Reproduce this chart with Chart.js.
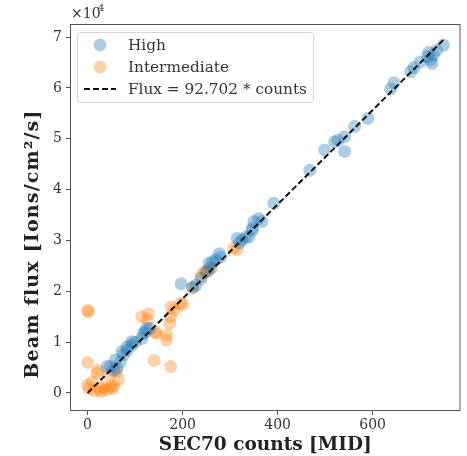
<!DOCTYPE html>
<html>
<head>
<meta charset="utf-8">
<script src="https://cdn.jsdelivr.net/npm/chart.js@4.4.0/dist/chart.umd.min.js"></script>
<style>
  html, body { margin: 0; padding: 0; background: #fff; }
  #wrap { width: 467px; height: 456px; position: relative; }
</style>
</head>
<body>
<div id="wrap"><canvas id="c"></canvas></div>
<script>
// SEC70 counts vs beam flux
var highCounts = [41, 48, 55, 62, 58, 69, 72, 76, 83, 83, 93, 93, 100, 114, 117, 122, 124, 131,
  197, 221, 228, 239, 250, 256, 260, 263, 270, 277, 280, 315, 320, 325, 333, 340, 347, 347,
  350, 360, 367, 392, 468, 499, 520, 527, 541, 541, 562, 590, 638, 645, 680, 687, 700, 715,
  718, 722, 725, 728, 735, 749];
var highFlux = [5200, 5200, 4500, 4900, 6500, 6150, 8100, 7500, 8400, 9100, 9400, 10100, 10000,
  10700, 11700, 12000, 12700, 12700, 21500, 20800, 21200, 22500, 23800, 25500, 24500, 25800,
  26200, 27400, 26700, 30400, 29500, 30100, 30700, 30700, 32000, 32400, 33700, 34300, 33700,
  37300, 43800, 47800, 49400, 49700, 50400, 47500, 52400, 54000, 59800, 61000, 63200, 64000,
  65100, 66100, 67000, 65500, 64800, 66500, 67400, 68400];

var interCounts = [0, 2, 0, 0, 3, 10, 15, 20, 22, 25, 28, 34, 40, 48, 52, 55, 62, 65, 45,
  114, 128, 126, 145, 140, 142, 166, 166, 173, 175, 175, 183, 176, 195, 201, 221, 239, 246,
  256, 308, 315, 253];
var interFlux = [16200, 16000, 6000, 1500, 800, 2200, 400, 3900, 4500, 900, 300, 1200, 600,
  1300, 900, 1400, 4200, 2600, 3500, 15000, 15600, 14400, 11700, 6400, 12000, 11400, 10400,
  13700, 15000, 5200, 16300, 16900, 17600, 17400, 20600, 23000, 23800, 24500, 28500, 28200, 24000];

var fitSlope = 92.702;
var fitRange = [0, 752];

var xTicks = [0, 200, 400, 600];
var yTicks = [0, 10000, 20000, 30000, 40000, 50000, 60000, 70000];

var yTitle = "Beam flux [Ions/cm\u00b2/s]";
var serif = "'DejaVu Serif', serif";

function toPoints(xs, ys) {
  var pts = [];
  for (var i = 0; i < xs.length; i++) pts.push({ x: xs[i], y: ys[i] });
  return pts;
}

var fitPoints = fitRange.map(function(x) { return { x: x, y: fitSlope * x }; });

// legend + frame + y title + x10^4 offset text, drawn matplotlib style
var mplExtras = {
  id: "mplExtras",
  afterDatasetsDraw: function(chart) {
    var ctx = chart.ctx, a = chart.chartArea;
    ctx.save();
    ctx.strokeStyle = "#555";
    ctx.lineWidth = 1;
    ctx.strokeRect(a.left + 0.5, a.top + 0.5, a.right - a.left - 1, a.bottom - a.top - 1);

    ctx.fillStyle = "#333";
    ctx.font = "14px " + serif;
    ctx.textBaseline = "alphabetic";
    ctx.fillText("\u00d710", a.left + 1, a.top - 6);
    ctx.font = "10px " + serif;
    ctx.fillText("4", a.left + 28, a.top - 13);

    // y axis title
    ctx.save();
    ctx.translate(38, 244);
    ctx.rotate(-Math.PI / 2);
    ctx.font = "bold 19px " + serif;
    ctx.letterSpacing = "1.2px";
    ctx.textAlign = "center";
    ctx.fillStyle = "#222";
    ctx.fillText(yTitle, 0, 0);
    ctx.restore();

    // legend box
    var bx = 77, by = 32, bw = 236, bh = 70;
    ctx.beginPath();
    ctx.roundRect(bx + 0.5, by + 0.5, bw, bh, 3);
    ctx.fillStyle = "rgba(255,255,255,0.85)";
    ctx.fill();
    ctx.strokeStyle = "#d6d6d6";
    ctx.stroke();

    var rows = [45, 67, 89];
    var ds = chart.data.datasets;
    var order = [1, 2, 0];
    ctx.font = "15.3px " + serif;
    ctx.textBaseline = "middle";
    order.forEach(function(di, r) {
      var d = ds[di], y = rows[r];
      if (d.showLine) {
        ctx.beginPath();
        ctx.setLineDash([6, 3]);
        ctx.lineWidth = 2;
        ctx.strokeStyle = "#111";
        ctx.moveTo(84, y);
        ctx.lineTo(116, y);
        ctx.stroke();
        ctx.setLineDash([]);
      } else {
        ctx.beginPath();
        ctx.arc(100, y, 6.5, 0, Math.PI * 2);
        ctx.fillStyle = d.backgroundColor;
        ctx.fill();
      }
      ctx.fillStyle = "#333";
      ctx.fillText(d.label, 128, y + 1);
    });
    ctx.restore();
  }
};

var chart = new Chart(document.getElementById("c"), {
  type: "scatter",
  data: {
    datasets: [
      {
        label: "Flux = 92.702 * counts",
        data: fitPoints,
        showLine: true,
        borderColor: "#111",
        borderWidth: 2,
        borderDash: [6, 3],
        pointRadius: 0,
        order: 0
      },
      {
        label: "High",
        data: toPoints(highCounts, highFlux),
        backgroundColor: "rgba(31,119,180,0.36)",
        borderWidth: 0,
        pointRadius: 6.5,
        order: 1
      },
      {
        label: "Intermediate",
        data: toPoints(interCounts, interFlux),
        backgroundColor: "rgba(255,127,14,0.36)",
        borderWidth: 0,
        pointRadius: 6.5,
        order: 2
      }
    ]
  },
  options: {
    responsive: true,
    maintainAspectRatio: false,
    animation: false,
    layout: { padding: { top: 24, right: 4, left: 0, bottom: 0 } },
    plugins: { legend: { display: false }, tooltip: { enabled: false } },
    scales: {
      x: {
        type: "linear",
        min: -37, max: 785,
        afterBuildTicks: function(s) { s.ticks = xTicks.map(function(v) { return { value: v }; }); },
        afterFit: function(s) { s.height = 45; },
        grid: { drawOnChartArea: false, drawTicks: true, tickLength: 4, color: "#555" },
        border: { display: false },
        ticks: { color: "#333", font: { family: serif, size: 14 }, padding: 2, maxRotation: 0 },
        title: { display: true, text: "SEC70 counts [MID]", color: "#222",
                 font: { family: serif, size: 18.5, weight: "bold" }, padding: { top: 0, bottom: 0 } }
      },
      y: {
        type: "linear",
        min: -3540, max: 72560,
        afterBuildTicks: function(s) { s.ticks = yTicks.map(function(v) { return { value: v }; }); },
        afterFit: function(s) { s.width = 70; },
        grid: { drawOnChartArea: false, drawTicks: true, tickLength: 4, color: "#555" },
        border: { display: false },
        ticks: { color: "#333", font: { family: serif, size: 14 }, padding: 4,
                 callback: function(v) { return String(v / 10000); } },
        title: { display: false }
      }
    }
  },
  plugins: [mplExtras]
});
</script>
</body>
</html>
